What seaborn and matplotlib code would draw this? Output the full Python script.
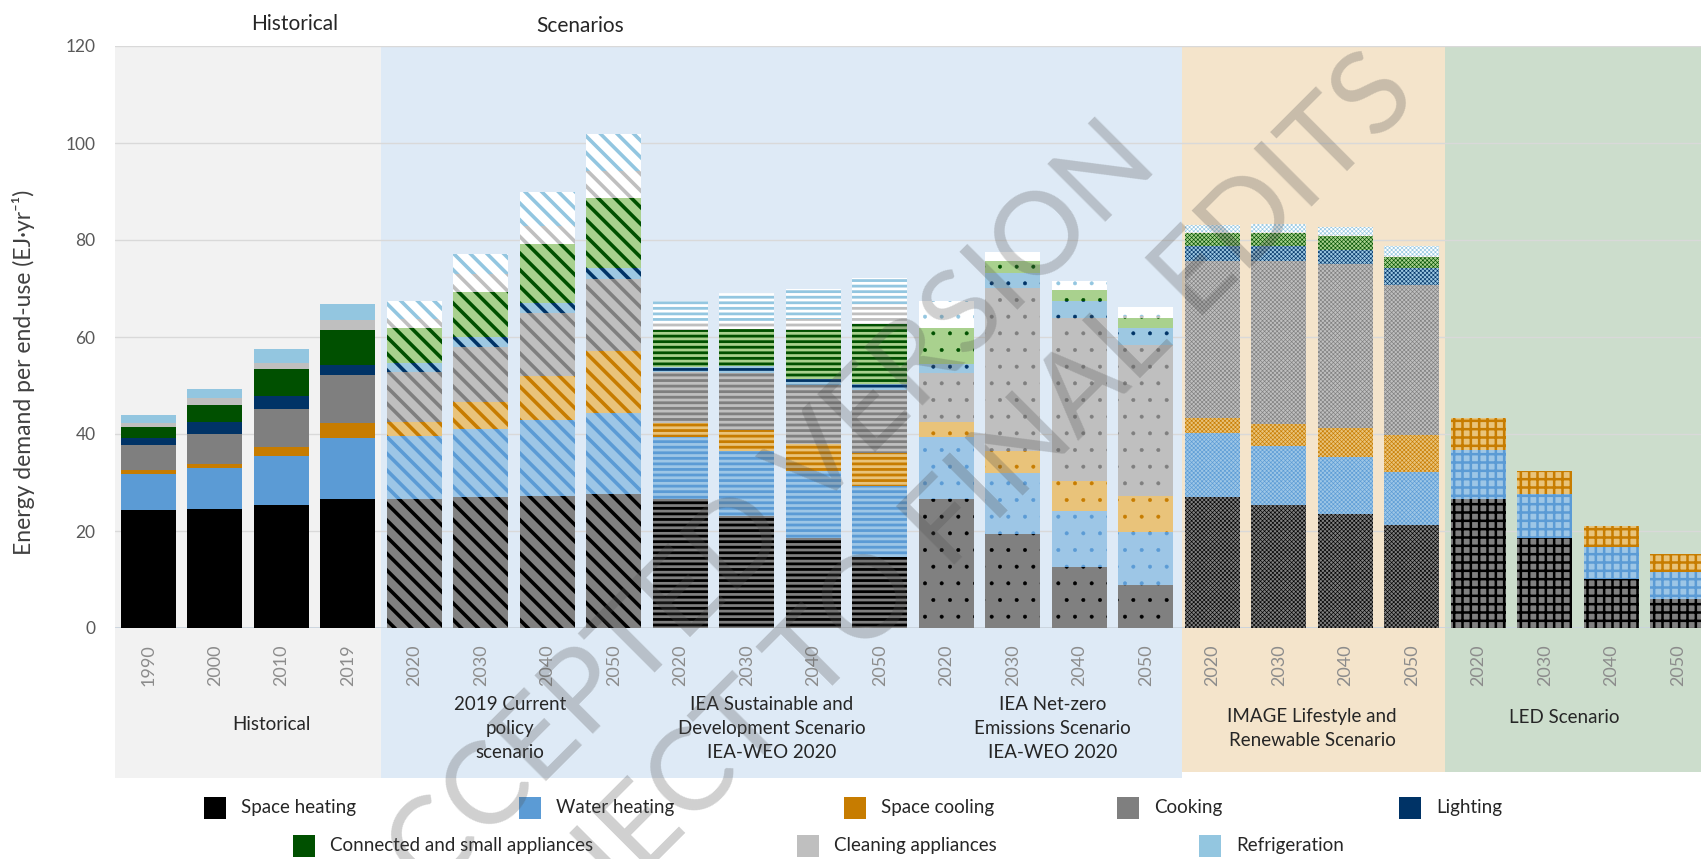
import numpy as np
import pandas as pd
import seaborn as sns
import matplotlib.pyplot as plt
from matplotlib.patches import Rectangle

# ---- data (EJ/yr) ----
years = ['1990', '2000', '2010', '2019'] + ['2020', '2030', '2040', '2050'] * 5
groups = ['hist'] * 4 + ['cp'] * 4 + ['sds'] * 4 + ['nze'] * 4 + ['image'] * 4 + ['led'] * 4
end_uses = ['Space heating', 'Water heating', 'Space cooling', 'Cooking', 'Lighting',
            'Connected and small appliances', 'Cleaning appliances', 'Refrigeration']

space_heating = [24.3, 24.6, 25.3, 26.5, 26.6, 27.0, 27.3, 27.7, 26.5, 23.1, 18.6, 14.7,
                 26.6, 19.4, 12.6, 8.8, 27.0, 25.4, 23.6, 21.3, 26.5, 18.5, 10.2, 6.0]
water_heating = [7.5, 8.3, 10.1, 12.6, 12.9, 14.0, 15.5, 16.7, 12.9, 13.4, 13.7, 14.5,
                 12.7, 12.5, 11.6, 10.9, 13.2, 12.2, 11.6, 10.9, 10.3, 9.1, 6.4, 5.6]
space_cooling = [0.8, 1.0, 1.9, 3.1, 2.9, 5.7, 9.2, 12.8, 2.9, 4.3, 5.6, 6.8,
                 3.1, 4.5, 6.2, 7.6, 3.0, 4.5, 6.0, 7.6, 6.4, 4.8, 4.5, 3.7]
cooking = [5.1, 6.0, 7.9, 10.0, 10.3, 11.3, 12.9, 14.8, 10.5, 11.7, 12.2, 13.1,
           10.2, 33.7, 33.6, 31.0, 32.5, 33.6, 33.8, 31.0, 0, 0, 0, 0]
lighting = [1.4, 2.6, 2.6, 2.0, 1.9, 1.9, 2.1, 2.2, 1.0, 1.5, 1.2, 1.2,
            1.8, 3.0, 3.4, 3.5, 3.0, 3.0, 3.0, 3.4, 0, 0, 0, 0]
connected = [2.3, 3.4, 5.7, 7.3, 7.2, 9.4, 12.1, 14.4, 7.7, 7.7, 10.2, 12.3,
             7.4, 2.6, 2.2, 2.2, 2.8, 2.8, 2.8, 2.3, 0, 0, 0, 0]
cleaning = [0.8, 1.5, 1.2, 2.0, 1.9, 3.6, 3.7, 5.7, 1.9, 1.4, 2.3, 4.2,
            0.4, 0.3, 0.3, 0.3, 0.2, 0.2, 0.2, 0.2, 0, 0, 0, 0]
refrigeration = [1.8, 1.9, 2.8, 3.3, 3.7, 4.3, 7.0, 7.6, 4.0, 6.0, 6.2, 5.3,
                 5.2, 1.5, 1.6, 1.9, 1.3, 1.7, 1.6, 2.1, 0, 0, 0, 0]

group_labels = ['Historical', '2019 Current\npolicy\nscenario',
                'IEA Sustainable and\nDevelopment Scenario\nIEA-WEO 2020',
                'IEA Net-zero\nEmissions Scenario\nIEA-WEO 2020',
                'IMAGE Lifestyle and\nRenewable Scenario', 'LED Scenario']

# main (pattern) colour and pattern background colour per end use
main_colors = ['#000000', '#5B9BD5', '#C77C00', '#7F7F7F', '#003366', '#005000', '#BFBFBF', '#93C6E0']
back_colors = ['#808080', '#9DC6E6', '#E9C37A', '#BFBFBF', '#9DC8E2', '#A9D18E', '#FFFFFF', '#FFFFFF']
styles = {'hist': (None, 0), 'cp': ('\\\\', 2.6), 'sds': ('---', 2.0),
          'nze': ('.', 0.4), 'image': ('xxxxxxxx', 0.45), 'led': ('++', 1.8)}

layers = [space_heating, water_heating, space_cooling, cooking, lighting,
          connected, cleaning, refrigeration]
bars = [f'{g}-{y}' for g, y in zip(groups, years)]
df = pd.DataFrame(np.cumsum(np.array(layers), axis=0).T, columns=end_uses)
df['bar'] = bars

sns.set_theme(style='white')
plt.rcParams['font.family'] = ['Lato', 'DejaVu Sans']

W, H = 1701, 859
fig = plt.figure(figsize=(W / 100, H / 100), dpi=100)
ax = fig.add_axes([115 / W, 231 / H, (W - 115) / W, 582 / H])

# coloured background bands (run below the axis into the label area)
bands = [(-0.5, 3.5, '#F2F2F2', -31), (3.5, 15.55, '#DEEAF6', -31),
         (15.55, 19.5, '#F4E4CB', -29.7), (19.5, 24, '#CCDDCC', -29.7)]
for x0, x1, c, yb in bands:
    ax.add_patch(Rectangle((x0, yb), x1 - x0, 120 - yb, facecolor=c, edgecolor='none',
                           zorder=0, clip_on=False))
for yv in range(20, 121, 20):
    ax.axhline(yv, color='#D9D9D9', lw=1.0, zorder=0.5)
ax.axhline(0, color='#C9D3DD', lw=2, zorder=0.5)

# stacked bars: draw cumulative totals from the top layer down
for k in reversed(range(len(end_uses))):
    sns.barplot(data=df, x='bar', y=end_uses[k], order=bars, width=0.83,
                errorbar=None, ax=ax, zorder=2)
    for p, g in zip(ax.containers[-1], groups):
        hatch, hlw = styles[g]
        p.set_linewidth(0)
        if hatch is None:
            p.set_facecolor(main_colors[k])
            p.set_edgecolor(main_colors[k])
        else:
            p.set_facecolor(back_colors[k])
            p.set_edgecolor(main_colors[k])
            p.set_hatch(hatch)
            if hasattr(p, 'set_hatch_linewidth'):
                p.set_hatch_linewidth(hlw)

ax.set_xlim(-0.5, (W - 148.3) / 66.5)
ax.set_ylim(0, 120)
ax.set_yticks(range(0, 121, 20))
ax.tick_params(axis='y', labelsize=12.5, labelcolor='#595959', length=0, pad=14)
ax.set_xticks(range(len(years)))
ax.set_xticklabels(years, rotation=90, fontsize=13, color='#8C8C8C', va='top')
ax.tick_params(axis='x', length=0, pad=12)
ax.set_xlabel('')
ax.set_ylabel('')
for s in ax.spines.values():
    s.set_visible(False)

# scenario group labels under the years
for (gx, gy), lab in zip([(1.85, -20), (5.44, -20.8), (9.37, -20.8), (13.6, -20.8),
                          (17.5, -20.8), (21.3, -18.4)], group_labels):
    ax.text(gx, gy, lab, ha='center', va='center', fontsize=13.5, color='#262626',
            linespacing=1.5, clip_on=False)

fig.text(24 / W, 1 - 372 / H, 'Energy demand per end-use (EJ·yr⁻¹)', rotation=90,
         ha='center', va='center', fontsize=16.5, color='#404040')
fig.text(295 / W, 1 - 24 / H, 'Historical', ha='center', va='center', fontsize=15, color='#262626')
fig.text(580 / W, 1 - 26 / H, 'Scenarios', ha='center', va='center', fontsize=15, color='#262626')

# legend laid out as in the source figure
legend_pos = [(204, 808), (519, 808), (844, 808), (1117, 808), (1399, 808),
              (293, 846), (797, 846), (1199, 846)]
for (lx, ly), name, c in zip(legend_pos, end_uses, main_colors):
    fig.add_artist(Rectangle((lx / W, 1 - (ly + 11) / H), 22 / W, 22 / H,
                             transform=fig.transFigure, facecolor=c, edgecolor='none'))
    fig.text((lx + 37) / W, 1 - ly / H, name, ha='left', va='center', fontsize=13.5,
             color='#262626')

# review watermark, two diagonal lines
for (wx, wy), line in zip([(745, 537), (913, 560)],
                          ['ACCEPTED VERSION', 'SUBJECT TO FINAL EDITS']):
    fig.text(wx / W, 1 - wy / H, line, rotation=45, ha='center', va='center',
             rotation_mode='anchor', fontsize=83, color='#505050', alpha=0.27)

fig.savefig('out.png', dpi=100)
